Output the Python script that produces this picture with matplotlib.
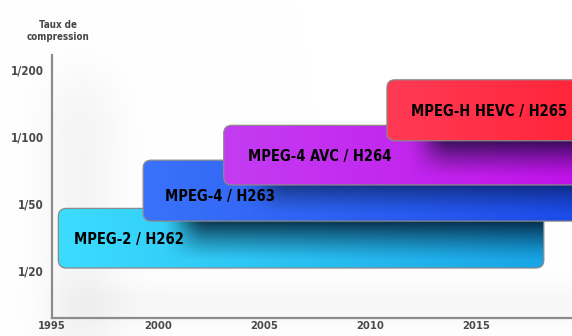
import os
import numpy as np
import matplotlib
matplotlib.use("Agg")
import matplotlib.pyplot as plt
from matplotlib.patches import FancyBboxPatch
from matplotlib.colors import to_rgb
from matplotlib import font_manager as fm

# data
codecs = ["MPEG-2 / H262", "MPEG-4 / H263", "MPEG-4 AVC / H264", "MPEG-H HEVC / H265"]
start_year = [1995.3, 1999.3, 2003.1, 2010.8]
end_year = [2018.2, 2021.0, 2021.0, 2021.0]
ratio_low = [0.03, 0.73, 1.27, 1.93]
ratio_high = [0.92, 1.64, 2.16, 2.84]
ratio_labels = ["1/20", "1/50", "1/100", "1/200"]
year_ticks = [1995, 2000, 2005, 2010, 2015]

left_colors = ["#3cdcff", "#3a72fa", "#c43cf2", "#ff3a55"]
right_colors = ["#18a4e6", "#1a48e6", "#c00ee8", "#ff2236"]


# look for a narrow bold face, the original uses a condensed grotesque
def narrow_font():
    files = [f.fname for f in fm.fontManager.ttflist]
    for fn in files:
        b = os.path.basename(fn).lower()
        if ("condensed" in b or "narrow" in b) and "bold" in b and "semi" not in b and "extra" not in b \
                and "italic" not in b and "oblique" not in b:
            return fn
    return None


font_file = narrow_font()


def fp(size, small):
    if font_file:
        return fm.FontProperties(fname=font_file, size=size)
    return fm.FontProperties(family=["Roboto", "DejaVu Sans"], weight="bold", size=small)


fig = plt.figure(figsize=(5.72, 3.36), dpi=100)

# soft grey background
bg = fig.add_axes([0, 0, 1, 1], zorder=-5)
gx, gy = np.meshgrid(np.linspace(0, 572, 286), np.linspace(0, 336, 168))
side = np.exp(-((gx - 80) / 40) ** 2) / (1 + np.exp(-(gy - 80) / 15))
low = np.exp(-((gy - 305) / 22) ** 2) / (1 + np.exp(-(gx - 60) / 10))
shade = 1 - 0.04 * side - 0.03 * low
bg.imshow(np.dstack([shade] * 3), extent=[0, 572, 336, 0], aspect="auto", vmin=0, vmax=1)
bg.axis("off")

ax = fig.add_axes([52 / 572, 18 / 336, 1 - 52 / 572, 263 / 336])
ax.patch.set_alpha(0)
xlim = (1995, 2019.53)
ylim = (-0.716, 3.21)

rx = 0.38
asp = (xlim[1] - xlim[0]) / 520 / ((ylim[1] - ylim[0]) / 263)

label_dx = [0.75, 1.05, 1.15, 1.15]
label_dy = [-0.02, -0.09, -0.02, -0.02]

for i, name in enumerate(codecs):
    x0, x1 = start_year[i], end_year[i]
    y0, y1 = ratio_low[i], ratio_high[i]
    z = 2 + i * 4
    box = FancyBboxPatch((x0, y0), x1 - x0, y1 - y0,
                         boxstyle="round,pad=0,rounding_size=%f" % rx,
                         mutation_aspect=1 / asp, facecolor="none",
                         edgecolor="#8a8a8a", linewidth=0.9, zorder=z + 3)
    ax.add_patch(box)

    # colour gradient
    t = np.linspace(0, 1, 200)
    c0, c1 = np.array(to_rgb(left_colors[i])), np.array(to_rgb(right_colors[i]))
    row = c0[None, :] * (1 - t[:, None]) + c1[None, :] * t[:, None]
    img = np.repeat(row[None, :, :], 2, axis=0)
    im = ax.imshow(img, extent=[x0, x1, y0, y1], aspect="auto", zorder=z, interpolation="bilinear")
    im.set_clip_path(box)

    # shadow cast by the next box
    if i < len(codecs) - 1:
        xs = start_year[i + 1] + 0.8
        sx = np.linspace(x0, x1, 300)
        sy = np.linspace(y0, y1, 80)
        X, Y = np.meshgrid(sx, sy)
        a = np.clip((X - xs) / 2.2, 0, 1)
        a = a * a * (3 - 2 * a)
        ay = np.clip((Y - y0 - 0.1) / (y1 - y0 - 0.25), 0, 1) ** 1.3
        rgba = np.zeros(X.shape + (4,))
        rgba[..., 1] = 0.04
        rgba[..., 2] = 0.12
        rgba[..., 3] = 0.85 * a * ay
        sh = ax.imshow(rgba, extent=[x0, x1, y0, y1], origin="lower", aspect="auto",
                       zorder=z + 1, interpolation="bilinear")
        sh.set_clip_path(box)

    ax.text(x0 + label_dx[i], (y0 + y1) / 2 + label_dy[i], name, fontproperties=fp(10.5, 9.1),
            color="black", ha="left", va="center", zorder=z + 3)

ax.set_xlim(*xlim)
ax.set_ylim(*ylim)

ax.set_xticks(year_ticks)
ax.set_xticklabels([str(y) for y in year_ticks])
ax.set_yticks(range(len(ratio_labels)))
ax.set_yticklabels(ratio_labels)
ax.tick_params(length=0, labelcolor="#4a4a4a", pad=6)
ax.tick_params(axis="x", pad=2.5)
for lab in ax.get_xticklabels():
    lab.set_fontproperties(fp(8, 7))
for lab in ax.get_yticklabels():
    lab.set_fontproperties(fp(8.4, 7.2))

for s in ["top", "right"]:
    ax.spines[s].set_visible(False)
for s in ["left", "bottom"]:
    ax.spines[s].set_color("#8c8c8c")
    ax.spines[s].set_linewidth(1.6)

fig.text(58 / 572, 1 - 31 / 336, "Taux de\ncompression", fontproperties=fp(7, 6),
         color="#444444", ha="center", va="center", linespacing=1.35)

fig.savefig("out.png", dpi=100)
